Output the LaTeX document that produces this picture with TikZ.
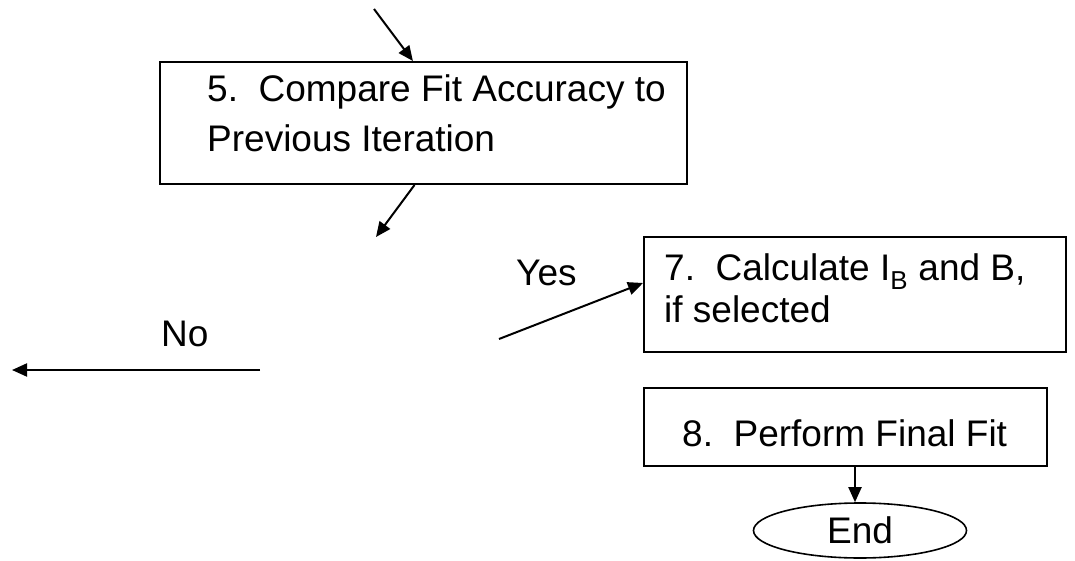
\documentclass[tikz,border=0pt]{standalone}
\usepackage{fontspec}
\setmainfont{Liberation Sans}
\usetikzlibrary{arrows.meta,shapes.geometric,calc}
\begin{document}
\begin{tikzpicture}[x=1pt,y=-1pt,
  box/.style={draw, line width=2pt, rectangle, inner sep=0pt},
  lbl/.style={anchor=base west, inner sep=0pt, font=\fontsize{37}{44}\selectfont},
  conn/.style={line width=2pt, -{Triangle[length=15pt,width=13pt]}},
  endshape/.style={draw, line width=1.6pt, ellipse, inner sep=0pt, font=\fontsize{37}{44}\selectfont},
]
\useasboundingbox[fill=white] (0,0) rectangle (1075,561);
% boxes
\node[box, minimum width=527pt, minimum height=122pt] (box5) at (423.5,123) {};
\node[box, minimum width=422pt, minimum height=115pt] (box7) at (855,294.5) {};
\node[box, minimum width=403pt, minimum height=78pt] (box8) at (845.5,427) {};
\node[endshape, minimum width=213pt, minimum height=55pt] (endnode) at (860,530.5) {End};
% texts
\node[lbl] (t5a) at (207,102) {5.\ \ Compare Fit Accuracy to};
\node[lbl] (t5b) at (207,152) {Previous Iteration};
\node[lbl] (t7a) at (664,280) {7.\ \ Calculate I\textsubscript{B} and B,};
\node[lbl] (t7b) at (664,322) {if selected};
\node[lbl] (t8) at (682,446) {8.\ \ Perform Final Fit};
\node[lbl] (yes) at (516,285) {Yes};
\node[lbl] (no) at (161,346) {No};
% free ends
\coordinate (c1) at (374,9);
\coordinate (c2) at (376,237);
\coordinate (c3) at (499,339);
\coordinate (c4a) at (260,370);
\coordinate (c4b) at (12,370);
% connectors
\draw[conn] (c1) -- ($(box5.north west)!0.48!(box5.north east)$);
\draw[conn] ($(box5.south west)!0.483!(box5.south east)$) -- (c2);
\draw[conn] (c3) -- ($(box7.west)+(0,-11.5)$);
\draw[conn] (c4a) -- (c4b);
\draw[conn] ($(box8.south)+(9.5,0)$) -- ($(endnode.north)+(-5,0)$);
\end{tikzpicture}
\end{document}
